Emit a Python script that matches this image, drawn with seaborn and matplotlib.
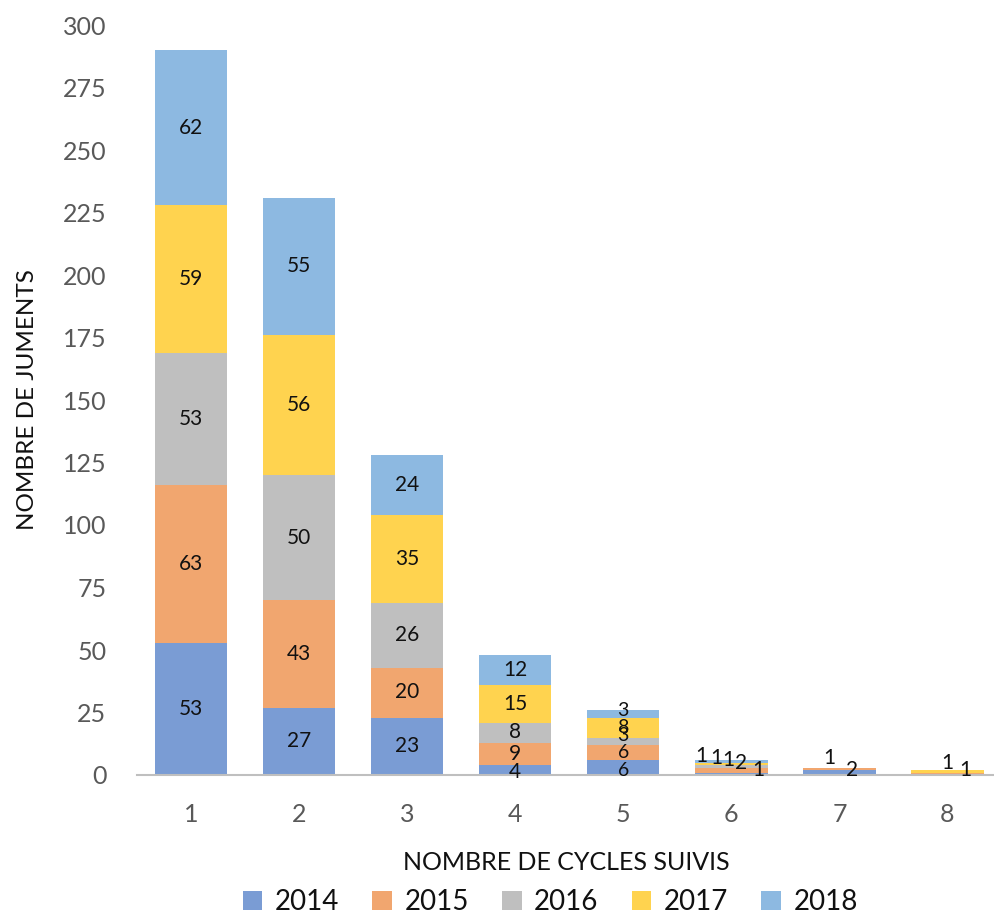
import matplotlib
matplotlib.use("Agg")
import matplotlib.pyplot as plt
import seaborn as sns
import numpy as np
import pandas as pd

cycles = ["1", "2", "3", "4", "5", "6", "7", "8"]
years = ["2014", "2015", "2016", "2017", "2018"]
v2014 = [53, 27, 23, 4, 6, 1, 2, 0]
v2015 = [63, 43, 20, 9, 6, 2, 1, 1]
v2016 = [53, 50, 26, 8, 3, 1, 0, 0]
v2017 = [59, 56, 35, 15, 8, 1, 0, 1]
v2018 = [62, 55, 24, 12, 3, 1, 0, 0]
series = [v2014, v2015, v2016, v2017, v2018]
colors = ["#7A9CD4", "#F1A66F", "#BFBFBF", "#FFD34F", "#8DB9E1"]

# label offsets (pixels) for crowded small segments: (year index, cycle index) -> (dx, dy)
label_offsets = {
    (0, 3): (0, -2),
    (0, 4): (0, -3), (2, 4): (0, 6), (4, 4): (0, 3),
    (0, 5): (27, 4), (1, 5): (10, 7), (2, 5): (-3, 6), (3, 5): (-15, 6), (4, 5): (-30, 5),
    (0, 6): (13, 3), (1, 6): (-10, 11),
    (1, 7): (18, 4), (3, 7): (0, 8),
}

sns.set_theme(style="white")
plt.rcParams["font.family"] = ["Lato", "DejaVu Sans"]

fig = plt.figure(figsize=(9.95, 9.22), dpi=100)
ax = fig.add_axes([137/995, 1 - 775/922, 1 - 137/995, (775 - 25)/922])

bottom = np.zeros(len(cycles))
for yi, (yr, vals, col) in enumerate(zip(years, series, colors)):
    df = pd.DataFrame({"cycle": cycles, "n": vals})
    sns.barplot(data=df, x="cycle", y="n", color=col, bottom=bottom, width=0.67,
                ax=ax, label=yr, saturation=1, edgecolor="none", linewidth=0)
    for ci, v in enumerate(vals):
        if v <= 0:
            continue
        dx, dy = label_offsets.get((yi, ci), (0, 0))
        ax.annotate(str(v), (ci, bottom[ci] + v / 2), xytext=(dx * 0.72, dy * 0.72),
                    textcoords="offset points", ha="center", va="center",
                    fontsize=14 if ci == 4 else 15, color="#111111")
    bottom = bottom + np.array(vals)

ax.set_xlim(-0.5, 7.44)
ax.set_ylim(0, 300)
ax.set_yticks(range(0, 301, 25))
for s in ["top", "right", "left"]:
    ax.spines[s].set_visible(False)
ax.spines["bottom"].set_color("#BFBFBF")
ax.spines["bottom"].set_linewidth(1.5)
ax.tick_params(axis="both", labelsize=18, colors="#595959", length=0)
ax.tick_params(axis="x", pad=20)
ax.tick_params(axis="y", pad=22)
ax.set_xlabel("NOMBRE DE CYCLES SUIVIS", fontsize=18, color="#111111", labelpad=18)
ax.set_ylabel("NOMBRE DE JUMENTS", fontsize=17.5, color="#111111", labelpad=18)
ax.grid(False)

handles, labels = ax.get_legend_handles_labels()
if ax.legend_:
    ax.legend_.remove()
fig.legend(handles, labels, loc="lower center", bbox_to_anchor=(0.553, -0.02), ncol=5,
           frameon=False, fontsize=20, handlelength=0.7, handleheight=0.7,
           columnspacing=1.2, handletextpad=0.45, labelcolor="#111111")

fig.savefig("out.png", dpi=100)
